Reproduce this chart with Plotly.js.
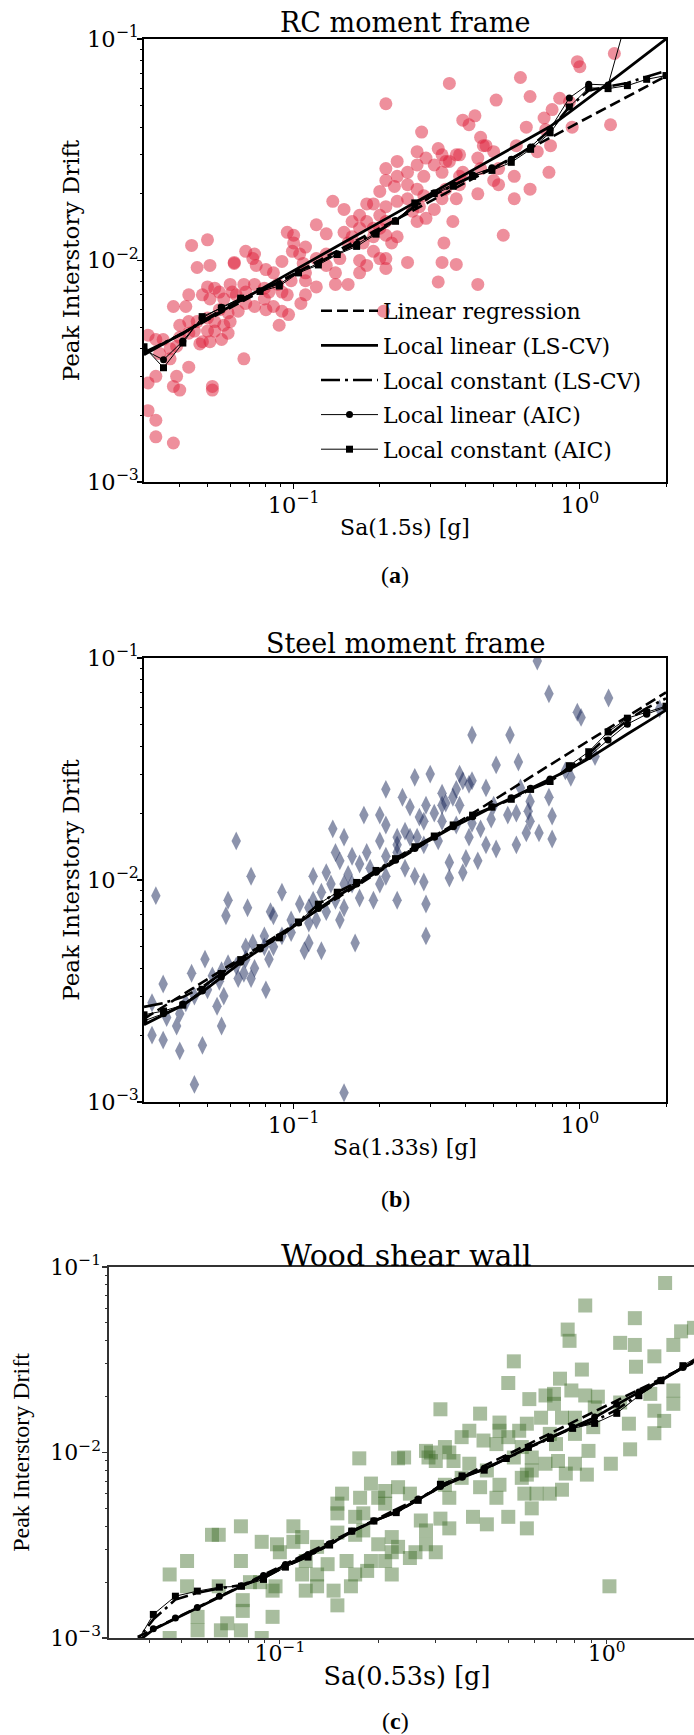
<!DOCTYPE html>
<html><head><meta charset="utf-8">
<script src="https://cdn.plot.ly/plotly-3.0.1.min.js"></script>
<style>html,body{margin:0;padding:0;background:#fff;overflow:hidden;width:694px;height:1735px}#chart{width:720px;height:1735px}</style>
</head><body><div id="chart"></div>
<script>
// ---------- shared x positions of the kernel-regression curves ----------
const xGrid = [0.0300,0.0351,0.0410,0.0479,0.0559,0.0653,0.0763,0.0891,0.104,0.122,0.142,0.166,0.194,0.227,0.265,0.310,0.361,0.422,0.493,0.576,0.673,0.787,0.919,1.074,1.255,1.466,1.712,2.0];

// ---------- (a) RC moment frame ----------
const rcRegX = [0.03, 2];
const rcRegY = [0.0038, 0.068];
const rcLinLS = [0.00375,0.00420,0.00470,0.00526,0.00589,0.00659,0.00738,0.00827,0.00926,0.01037,0.01161,0.01300,0.01456,0.01630,0.01825,0.02043,0.02287,0.02561,0.02867,0.03209,0.03593,0.04023,0.04658,0.05404,0.06303,0.07345,0.08604,0.1000];
const rcConLS = [0.00385,0.00425,0.00467,0.00534,0.00599,0.00667,0.00731,0.00798,0.00885,0.00977,0.01080,0.01193,0.01339,0.01514,0.01751,0.01981,0.02180,0.02399,0.02590,0.02864,0.03258,0.03887,0.04931,0.05856,0.06095,0.06328,0.06761,0.07177];
const rcLinAIC = [0.00395,0.00356,0.00433,0.00550,0.00615,0.00676,0.00731,0.00783,0.00885,0.00970,0.01072,0.01185,0.01330,0.01514,0.01786,0.02020,0.02205,0.02436,0.02620,0.02864,0.03258,0.03917,0.05420,0.06250,0.06200,0.131,0.26,0.5];
const rcConAIC = [0.00408,0.00328,0.00424,0.00558,0.00610,0.00676,0.00725,0.00767,0.00879,0.00955,0.01064,0.01158,0.01315,0.01503,0.01820,0.02004,0.02163,0.02399,0.02551,0.02775,0.03176,0.03770,0.04931,0.06022,0.05970,0.06160,0.06577,0.06840];
const rcPoints = [
[0.98,0.079],[1.0,0.075],[1.32,0.086],[0.62,0.067],[0.35,0.063],[0.21,0.051],[0.51,0.053],[0.67,0.055],[0.85,0.054],[0.80,0.048],
[0.75,0.044],[0.94,0.040],[1.28,0.041],[0.39,0.043],[0.43,0.045],[0.28,0.038],[0.45,0.036],[0.65,0.040],[0.60,0.033],[0.76,0.039],
[0.71,0.031],[0.79,0.033],[0.78,0.025],[0.59,0.024],[0.67,0.021],[0.59,0.019],[0.54,0.013],[0.44,0.020],[0.50,0.023],[0.44,0.029],
[0.38,0.030],[0.35,0.028],[0.33,0.030],[0.27,0.031],[0.31,0.027],[0.285,0.024],[0.33,0.025],[0.38,0.022],[0.34,0.021],[0.37,0.019],
[0.36,0.015],[0.335,0.012],[0.33,0.0098],[0.37,0.0096],[0.32,0.0080],[0.44,0.0078],[0.25,0.0098],[0.21,0.0092],[0.22,0.012],[0.23,0.0128],
[0.21,0.015],[0.19,0.014],[0.20,0.016],[0.21,0.0175],[0.19,0.018],[0.23,0.0185],[0.20,0.0205],[0.225,0.0216],[0.21,0.023],[0.23,0.024],
[0.21,0.026],[0.23,0.028],[0.27,0.027],[0.27,0.021],[0.25,0.019],[0.275,0.0175],[0.27,0.015],[0.29,0.0155],[0.31,0.017],[0.33,0.019],
[0.285,0.0196],[0.26,0.0167],[0.137,0.0185],[0.15,0.017],[0.16,0.015],[0.17,0.014],[0.18,0.015],[0.19,0.0128],[0.175,0.012],[0.16,0.0128],
[0.15,0.0134],[0.155,0.012],[0.19,0.011],[0.20,0.0102],[0.18,0.0095],[0.21,0.0102],[0.17,0.0088],[0.155,0.0078],[0.14,0.0078],[0.14,0.0088],
[0.13,0.0095],[0.12,0.0102],[0.13,0.0107],[0.12,0.0145],[0.13,0.0132],[0.11,0.0115],[0.105,0.0107],[0.108,0.0097],[0.099,0.011],[0.095,0.0134],
[0.10,0.013],[0.10,0.012],[0.091,0.0099],[0.085,0.0088],[0.088,0.0078],[0.098,0.0081],[0.11,0.0081],[0.12,0.0076],[0.11,0.0070],[0.106,0.0064],
[0.095,0.0070],[0.082,0.0072],[0.079,0.0067],[0.085,0.0062],[0.091,0.0059],[0.096,0.0057],[0.089,0.0051],[0.080,0.0060],[0.073,0.0062],[0.073,0.0107],
[0.068,0.011],[0.072,0.0102],[0.074,0.0095],[0.080,0.0091],[0.073,0.0078],[0.068,0.0072],[0.067,0.0078],[0.063,0.0070],[0.060,0.0078],[0.062,0.0097],
[0.057,0.0067],[0.055,0.0072],[0.053,0.0075],[0.050,0.0076],[0.048,0.0070],[0.051,0.0067],[0.055,0.0060],[0.059,0.0058],[0.064,0.0059],[0.060,0.0053],
[0.057,0.0051],[0.053,0.0053],[0.050,0.0055],[0.046,0.0053],[0.050,0.0048],[0.048,0.0043],[0.051,0.0043],[0.056,0.0044],[0.043,0.0070],[0.042,0.0062],
[0.038,0.0062],[0.040,0.0051],[0.043,0.0053],[0.045,0.0048],[0.040,0.0045],[0.039,0.0041],[0.037,0.0040],[0.031,0.0046],[0.033,0.0044],[0.031,0.0028],
[0.033,0.0030],[0.038,0.0027],[0.040,0.0026],[0.039,0.0030],[0.043,0.0033],[0.037,0.0036],[0.034,0.0038],[0.031,0.0021],[0.033,0.0019],[0.033,0.0016],
[0.038,0.0015],[0.052,0.0026],[0.052,0.0027],[0.067,0.0036],[0.044,0.0117],[0.050,0.0124],[0.046,0.0093],[0.051,0.0095],[0.062,0.0098],[0.206,0.0059],
[0.92,0.052],[0.46,0.033],[0.50,0.031],[0.45,0.026],[0.52,0.022],[0.39,0.025],[0.41,0.041],[0.47,0.033],[0.52,0.026],[0.38,0.024],
[0.29,0.029],[0.32,0.032],[0.34,0.028],[0.37,0.030],[0.25,0.025],[0.25,0.022],[0.18,0.018],[0.17,0.016],[0.20,0.014],[0.21,0.013],
[0.17,0.010],[0.145,0.0102],[0.11,0.0088],[0.091,0.0072],[0.068,0.0064],[0.079,0.0075],[0.061,0.0072],[0.053,0.0048],[0.059,0.0047],[0.047,0.0042],
[0.035,0.0044],[0.043,0.0047]
];

// ---------- (b) Steel moment frame ----------
const stRegX = [0.03, 2];
const stRegY = [0.00237, 0.070];
const stLinLS = [0.00223,0.00247,0.00273,0.00313,0.00364,0.00424,0.00487,0.00556,0.00639,0.00741,0.00845,0.00955,0.01081,0.01222,0.01383,0.01552,0.01733,0.01919,0.02129,0.02339,0.02582,0.02837,0.03142,0.03524,0.04018,0.04546,0.05145,0.05821];
const stConLS = [0.00268,0.00279,0.00297,0.00329,0.00379,0.00438,0.00496,0.00549,0.00647,0.00778,0.00881,0.00975,0.01104,0.01248,0.01412,0.01578,0.01770,0.01959,0.02129,0.02310,0.02559,0.02778,0.03206,0.03704,0.04457,0.05248,0.05942,0.06578];
const stLinAIC = [0.00232,0.00250,0.00276,0.00316,0.00366,0.00426,0.00489,0.00556,0.00641,0.00745,0.00850,0.00960,0.01085,0.01226,0.01388,0.01556,0.01738,0.01925,0.02135,0.02345,0.02590,0.02850,0.03180,0.03600,0.04277,0.05035,0.05585,0.06013];
const stConAIC = [0.00247,0.00257,0.00273,0.00322,0.00379,0.00438,0.00496,0.00549,0.00647,0.00778,0.00881,0.00975,0.01104,0.01248,0.01412,0.01578,0.01770,0.01959,0.02129,0.02310,0.02559,0.02778,0.03273,0.03783,0.04646,0.05357,0.05700,0.06065];
const stPoints = [
[0.71,0.097],[0.78,0.069],[1.26,0.066],[0.98,0.057],[1.01,0.054],[0.42,0.045],[0.57,0.045],[0.51,0.033],[0.61,0.034],[0.265,0.029],
[0.39,0.028],[0.41,0.027],[0.42,0.028],[0.37,0.0256],[0.33,0.0246],[0.34,0.0222],[0.29,0.0217],[0.31,0.020],[0.275,0.0192],[0.255,0.0213],
[0.47,0.026],[0.49,0.0188],[0.56,0.0196],[0.60,0.020],[0.66,0.0204],[0.67,0.0226],[0.65,0.0163],[0.72,0.0163],[0.80,0.0194],[0.80,0.0153],
[0.60,0.0144],[0.51,0.0138],[0.45,0.017],[0.44,0.0122],[0.40,0.0125],[0.35,0.012],[0.35,0.0102],[0.39,0.0108],[0.29,0.0078],[0.29,0.0056],
[0.285,0.0098],[0.265,0.0104],[0.245,0.0113],[0.23,0.0133],[0.21,0.0177],[0.20,0.0196],[0.20,0.015],[0.23,0.0156],[0.245,0.0166],[0.27,0.0156],
[0.285,0.0144],[0.32,0.015],[0.33,0.0184],[0.37,0.0177],[0.41,0.0156],[0.176,0.0196],[0.18,0.0133],[0.17,0.0118],[0.155,0.0106],[0.16,0.0096],
[0.17,0.0083],[0.19,0.0081],[0.20,0.0096],[0.21,0.0104],[0.23,0.0081],[0.164,0.0052],[0.15,0.0075],[0.145,0.0066],[0.137,0.017],[0.15,0.0156],
[0.14,0.0133],[0.145,0.0122],[0.13,0.0108],[0.135,0.0096],[0.125,0.0088],[0.117,0.0104],[0.117,0.0081],[0.13,0.0072],[0.12,0.0066],[0.113,0.0052],
[0.109,0.0048],[0.125,0.0048],[0.105,0.0078],[0.113,0.0064],[0.091,0.0088],[0.098,0.0066],[0.091,0.0056],[0.085,0.0069],[0.083,0.0072],[0.085,0.005],
[0.079,0.0056],[0.082,0.0044],[0.073,0.004],[0.068,0.0044],[0.071,0.0036],[0.069,0.0075],[0.072,0.0052],[0.063,0.015],[0.071,0.0104],[0.059,0.0081],
[0.058,0.0069],[0.067,0.0038],[0.064,0.0036],[0.059,0.0042],[0.056,0.0039],[0.055,0.0035],[0.052,0.0037],[0.057,0.003],[0.054,0.0027],[0.056,0.0022],
[0.05,0.0032],[0.049,0.0044],[0.044,0.0038],[0.045,0.003],[0.042,0.0028],[0.04,0.0025],[0.039,0.0022],[0.04,0.0017],[0.048,0.0018],[0.045,0.0012],
[0.035,0.0034],[0.033,0.0085],[0.032,0.002],[0.035,0.0019],[0.032,0.0028],[0.036,0.0024],[0.15,0.0011],[0.08,0.0032],[0.47,0.0144],[0.93,0.029],
[1.13,0.036],[1.9,0.059],[0.67,0.0184],[0.89,0.031],[0.38,0.0217],[0.21,0.0256],[0.24,0.0236],[0.30,0.030],[0.38,0.030],[0.36,0.0236],
[0.33,0.0217],[0.285,0.0184],[0.255,0.0156],[0.23,0.0144],[0.21,0.0128],[0.185,0.0113],[0.16,0.0128],[0.15,0.0096],[0.14,0.0081],[0.113,0.0075],
[0.098,0.0058],[0.079,0.005],[0.068,0.005],[0.063,0.0041],[0.42,0.018],[0.50,0.0217],[0.62,0.026],[0.78,0.0236]
];

// ---------- (c) Wood shear wall ----------
const wdRegX = [0.03, 2];
const wdRegY = [0.00085, 0.0327];
const wdLinLS = [0.00075,0.00090,0.00111,0.00127,0.00145,0.00167,0.00190,0.00215,0.00247,0.00280,0.00320,0.00374,0.00427,0.00478,0.00559,0.00652,0.00732,0.00816,0.00928,0.01065,0.01205,0.01365,0.01545,0.01811,0.02110,0.02438,0.02856,0.03334];
const wdConLS = [0.00062,0.00088,0.00126,0.00161,0.00175,0.00185,0.00193,0.00211,0.00243,0.00275,0.00318,0.00376,0.00427,0.00476,0.00555,0.00665,0.00742,0.00808,0.00925,0.01060,0.01195,0.01355,0.01480,0.01700,0.02060,0.02440,0.02900,0.03400];
const wdLinAIC = [0.00076,0.00091,0.00112,0.00128,0.00146,0.00168,0.00191,0.00217,0.00249,0.00282,0.00322,0.00376,0.00429,0.00480,0.00562,0.00655,0.00735,0.00820,0.00932,0.01070,0.01212,0.01372,0.01555,0.01820,0.02120,0.02450,0.02870,0.03350];
const wdConAIC = [0.00060,0.00084,0.00134,0.00168,0.00179,0.00188,0.00190,0.00207,0.00241,0.00273,0.00317,0.00377,0.00427,0.00474,0.00552,0.00674,0.00748,0.00803,0.00928,0.01065,0.01191,0.01349,0.01435,0.01626,0.02024,0.02438,0.02938,0.03475];
const wdPoints = [
[1.51,0.082],[0.86,0.062],[1.22,0.053],[0.76,0.046],[0.77,0.040],[1.10,0.039],[1.22,0.038],[1.69,0.045],[1.85,0.047],[1.60,0.038],
[0.52,0.031],[0.84,0.028],[1.40,0.033],[1.23,0.029],[0.50,0.0237],[0.72,0.025],[0.78,0.0216],[0.69,0.0207],[0.65,0.0203],[0.58,0.0194],
[0.86,0.0203],[0.94,0.020],[1.10,0.0186],[1.36,0.0207],[1.60,0.0216],[1.60,0.0183],[1.40,0.0168],[1.50,0.0148],[1.40,0.0127],[1.17,0.0143],
[1.18,0.0104],[1.03,0.0087],[0.87,0.0076],[1.02,0.0019],[0.31,0.0171],[0.41,0.0162],[0.47,0.0145],[0.38,0.0131],[0.36,0.0121],[0.32,0.0107],
[0.29,0.010],[0.33,0.010],[0.285,0.0094],[0.34,0.009],[0.38,0.0087],[0.43,0.008],[0.47,0.0067],[0.41,0.0065],[0.46,0.0057],[0.50,0.0045],
[0.43,0.0041],[0.39,0.0045],[0.42,0.0116],[0.46,0.0111],[0.50,0.0121],[0.54,0.0131],[0.55,0.0107],[0.59,0.0094],[0.65,0.0087],[0.71,0.009],
[0.75,0.0077],[0.59,0.008],[0.55,0.0073],[0.61,0.006],[0.67,0.006],[0.73,0.0063],[0.56,0.006],[0.59,0.005],[0.57,0.0039],[0.67,0.0126],
[0.63,0.0154],[0.57,0.0143],[0.80,0.0154],[0.80,0.0126],[0.88,0.0102],[0.70,0.0111],[0.52,0.0094],[0.57,0.0076],[0.80,0.0087],[0.92,0.0175],
[0.91,0.0137],[0.73,0.0154],[0.69,0.0183],[0.47,0.0131],[0.28,0.0102],[0.30,0.009],[0.36,0.0073],[0.32,0.0067],[0.33,0.0057],[0.31,0.0044],
[0.33,0.0039],[0.28,0.0038],[0.30,0.0029],[0.28,0.0032],[0.26,0.0029],[0.25,0.0027],[0.27,0.0043],[0.23,0.0031],[0.22,0.0035],[0.20,0.0032],
[0.22,0.0029],[0.21,0.0026],[0.23,0.0093],[0.24,0.0094],[0.175,0.0093],[0.19,0.0068],[0.176,0.0057],[0.155,0.006],[0.15,0.0053],[0.15,0.0047],
[0.17,0.0045],[0.18,0.0047],[0.20,0.0057],[0.21,0.0062],[0.23,0.0065],[0.25,0.006],[0.21,0.0053],[0.18,0.0038],[0.17,0.0036],[0.15,0.0037],
[0.117,0.0035],[0.11,0.0033],[0.13,0.0031],[0.12,0.0026],[0.14,0.0025],[0.13,0.0022],[0.117,0.0022],[0.12,0.0018],[0.13,0.0019],[0.146,0.0018],
[0.15,0.0015],[0.165,0.0019],[0.17,0.0022],[0.185,0.0023],[0.19,0.0026],[0.16,0.0026],[0.22,0.0022],[0.098,0.0032],[0.10,0.0029],[0.095,0.0018],
[0.097,0.0019],[0.095,0.0013],[0.081,0.002],[0.077,0.0016],[0.077,0.0014],[0.076,0.0011],[0.069,0.0012],[0.066,0.0011],[0.065,0.0019],[0.056,0.0013],
[0.056,0.0011],[0.046,0.001],[0.052,0.0019],[0.052,0.0026],[0.046,0.0022],[0.076,0.0026],[0.088,0.0033],[0.076,0.004],[0.065,0.0036],[0.062,0.0036],
[0.087,0.002],[0.088,0.001],[0.11,0.004]
];

// ---------- tick labels ----------
const xTickVals = [0.1, 1];
const xTickText = ['10<sup>−1</sup>', '10<sup>0</sup>'];
const yTickVals = [0.001, 0.01, 0.1];
const yTickText = ['10<sup>−3</sup>', '10<sup>−2</sup>', '10<sup>−1</sup>'];
const xMinor = [0.04,0.05,0.06,0.07,0.08,0.09,0.2,0.3,0.4,0.5,0.6,0.7,0.8,0.9,2];
const yMinor = [0.002,0.003,0.004,0.005,0.006,0.007,0.008,0.009,0.02,0.03,0.04,0.05,0.06,0.07,0.08,0.09];

const curveNames = ['Linear regression','Local linear (LS-CV)','Local constant (LS-CV)','Local linear (AIC)','Local constant (AIC)'];

// ---------- build ----------
const W = 720, H = 1735;
const PX = v => v / W, PY = v => 1 - v / H;
const SERIF = 'DejaVu Serif';

function panelTraces(idx, pts, marker, regX, regY, linLS, conLS, linAIC, conAIC, legend) {
  const xa = idx === 1 ? 'x' : 'x' + idx, ya = idx === 1 ? 'y' : 'y' + idx;
  const base = {xaxis: xa, yaxis: ya, hoverinfo: 'skip'};
  return [
    Object.assign({type: 'scatter', mode: 'markers', x: pts.map(p => p[0]), y: pts.map(p => p[1]), marker: marker, showlegend: false}, base),
    Object.assign({type: 'scatter', mode: 'lines', name: curveNames[0], x: regX, y: regY, line: {color: '#000', width: 2.6, dash: '11px,5px'}, showlegend: legend, legendgroup: 'g0'}, base),
    Object.assign({type: 'scatter', mode: 'lines', name: curveNames[1], x: xGrid, y: linLS, line: {color: '#000', width: 2.8}, showlegend: legend, legendgroup: 'g1'}, base),
    Object.assign({type: 'scatter', mode: 'lines', name: curveNames[2], x: xGrid, y: conLS, line: {color: '#000', width: 2.6, dash: '19px,5px,3px,5px'}, showlegend: legend, legendgroup: 'g2'}, base),
    Object.assign({type: 'scatter', mode: 'lines+markers', name: curveNames[3], x: xGrid, y: linAIC, line: {color: '#000', width: 1}, marker: {symbol: 'circle', size: 7, color: '#000'}, showlegend: legend, legendgroup: 'g3'}, base),
    Object.assign({type: 'scatter', mode: 'lines+markers', name: curveNames[4], x: xGrid, y: conAIC, line: {color: '#000', width: 1}, marker: {symbol: 'square', size: 7, color: '#000'}, showlegend: legend, legendgroup: 'g4'}, base)
  ];
}

const data = [].concat(
  panelTraces(1, rcPoints, {symbol: 'circle', size: 13, color: 'rgba(222,32,58,0.5)', line: {width: 0}}, rcRegX, rcRegY, rcLinLS, rcConLS, rcLinAIC, rcConAIC, true),
  panelTraces(2, stPoints, {symbol: 'diamond-tall', size: 13.5, color: 'rgba(25,40,90,0.5)', line: {width: 0}}, stRegX, stRegY, stLinLS, stConLS, stLinAIC, stConAIC, false),
  panelTraces(3, wdPoints, {symbol: 'square', size: 14, color: 'rgba(62,108,40,0.45)', line: {width: 0}}, wdRegX, wdRegY, wdLinLS, wdConLS, wdLinAIC, wdConAIC, false)
);

function xAxis(dom, anchor, title, lc, fs, tfs, tlen, lstand, tstand) {
  return {type: 'log', domain: dom, anchor: anchor, range: [Math.log10(0.03), Math.log10(2)],
    tickvals: xTickVals, ticktext: xTickText, ticks: 'outside', ticklen: tlen, tickwidth: 1.2, tickcolor: lc,
    ticklabelstandoff: lstand,
    tickfont: {family: SERIF, size: fs, color: '#000'}, showline: true, linecolor: lc, linewidth: 1.6, mirror: true,
    showgrid: false, zeroline: false, automargin: false,
    minor: {tickvals: xMinor, ticks: 'outside', ticklen: 3, tickwidth: 1, tickcolor: lc, showgrid: false},
    title: {text: title, font: {family: SERIF, size: tfs, color: '#000'}, standoff: tstand}};
}
function yAxis(dom, anchor, lc, fs, titleFont, stand, lstand) {
  return {type: 'log', domain: dom, anchor: anchor, range: [-3, -1],
    tickvals: yTickVals, ticktext: yTickText, ticks: 'outside', ticklen: 5, tickwidth: 1.2, tickcolor: lc,
    ticklabelstandoff: lstand,
    tickfont: {family: SERIF, size: fs, color: '#000'}, showline: true, linecolor: lc, linewidth: 1.6, mirror: true,
    showgrid: false, zeroline: false, automargin: false,
    minor: {tickvals: yMinor, ticks: 'outside', ticklen: 2, tickwidth: 1, tickcolor: lc, showgrid: false},
    title: {text: 'Peak Interstory Drift', font: titleFont, standoff: stand}};
}

function note(text, x, y, font) {
  return {text: text, x: PX(x), y: PY(y), xref: 'paper', yref: 'paper', xanchor: 'center', yanchor: 'middle', showarrow: false, font: font};
}
const titleFont = {family: SERIF, size: 27, color: '#000'};
const capFont = {family: 'Liberation Serif', size: 24, color: '#000'};

const layout = {
  width: W, height: H, margin: {l: 0, r: 0, t: 0, b: 0}, paper_bgcolor: '#fff', plot_bgcolor: 'rgba(0,0,0,0)',
  showlegend: true,
  xaxis: xAxis([PX(144), PX(666)], 'y', 'Sa(1.5s) [g]', '#000', 22.5, 22, 5, -3, 3),
  yaxis: yAxis([PY(482), PY(39)], 'x', '#000', 22.5, {family: SERIF, size: 23, color: '#000'}, 1, -6),
  xaxis2: xAxis([PX(144), PX(666)], 'y2', 'Sa(1.33s) [g]', '#000', 22.5, 22, 5, -3, 3),
  yaxis2: yAxis([PY(1102), PY(658)], 'x2', '#000', 22.5, {family: SERIF, size: 23, color: '#000'}, 1, -6),
  xaxis3: xAxis([PX(109), PX(705)], 'y3', 'Sa(0.53s) [g]', '#333', 22, 25.5, 4, -9, 2),
  yaxis3: yAxis([PY(1638), PY(1267)], 'x3', '#333', 22, {family: 'Liberation Serif', size: 24, color: '#000'}, 14, -3),
  legend: {x: PX(316), y: PY(290), xanchor: 'left', yanchor: 'top', bgcolor: 'rgba(0,0,0,0)', borderwidth: 0,
    font: {family: SERIF, size: 22, color: '#000'}, traceorder: 'grouped', tracegroupgap: 3, itemwidth: 57},
  annotations: [
    note('RC moment frame', 405, 22, titleFont),
    note('Steel moment frame', 405, 643, titleFont),
    note('Wood shear wall', 406, 1255, {family: SERIF, size: 30, color: '#000'}),
    note('(<b>a</b>)', 395, 575, capFont),
    note('(<b>b</b>)', 395, 1199, capFont),
    note('(<b>c</b>)', 395, 1721, capFont)
  ]
};

Plotly.newPlot('chart', data, layout, {staticPlot: true, displayModeBar: false});
</script>
</body></html>
